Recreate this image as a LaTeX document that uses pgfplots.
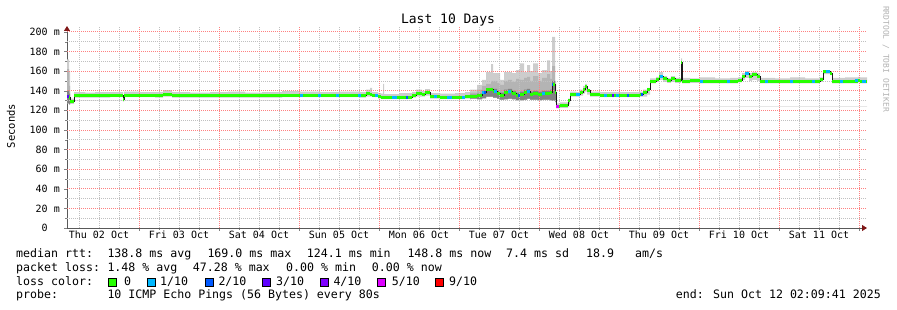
\documentclass[border=0pt]{standalone}
\usepackage{fontspec}
\setmainfont{DejaVu Sans Mono}
\usepackage{pgfplots}
\pgfplotsset{compat=1.18}
\usepackage{pgfplotstable}
\usepgfplotslibrary{fillbetween}
\usetikzlibrary{arrows.meta}

\definecolor{lossA}{RGB}{38,255,0}
\definecolor{lossB}{RGB}{0,184,255}
\definecolor{lossC}{RGB}{0,89,255}
\definecolor{lossD}{RGB}{94,0,255}
\definecolor{lossE}{RGB}{126,0,255}
\definecolor{lossF}{RGB}{221,0,255}
\definecolor{lossG}{RGB}{255,0,0}
\definecolor{smokeA}{RGB}{205,205,205}
\definecolor{smokeB}{RGB}{180,180,180}
\definecolor{smokeC}{RGB}{130,130,130}
\definecolor{gridred}{RGB}{255,128,128}
\definecolor{gridgray}{RGB}{192,192,192}
\definecolor{arrowred}{RGB}{128,24,24}

% hours since Thu 02 Oct 00:00
\pgfplotstableread{
h      med    lo     u1
2.4    134    127    172
3.0    133    126    160
3.3    129    126.5  132
4.5    135    133    138.5
7.8    135    133    138
10.8   135    133    138.5
15.3   135.5  133.5  138.5
19.2   131    129    133.5
19.5   135.5  133.5  139
24.3   135.5  133.5  138.5
28.8   135    133    138.5
31.2   136.5  134    140.5
33.9   135    133    138.5
39.3   135    133    138
45.3   135    133    138.5
50.7   135    133    139
55.8   135    133    138
60.9   135    133    138.5
66.9   135.5  133.5  139.5
72.3   135.5  133.5  139
78.3   135.5  133.5  138.5
84.3   135.5  133.5  139
90.3   135    133    138.5
92.1   137.5  134    141
93.3   136    134    143
93.9   135.5  133.5  138.5
95.7   134    132    137.5
96.6   133.5  131.5  137
97.2   133.5  131.5  147
97.5   133.5  131.5  136.5
102.3  133.5  131.5  137.5
105.9  135    133    138.5
107.1  137.5  134    141
108.9  136    134    139.5
109.8  138    135    141.5
111.3  134    132    137.5
114.3  133.5  131.5  137
118.8  133.5  131.5  137.5
121.8  134    132    138.5
123.3  134    132    141
125.4  135    131    146
126.9  138    132    151
128.1  141    134    159
129.6  141.5  134    167
130.2  139    133    158
131.4  137    132    158
132.3  135.5  131    151
133.5  138    131    159
134.7  139.5  132    159
135.9  137    131    158
137.1  135    130    161
138.3  136    130    168
139.5  138    131    159
140.4  139    132    166
141.3  136    131    160
142.2  137    131    168
143.7  136.5  130    158
144.9  137    131    161
146.4  137    131    171
147.3  138    130    160
147.9  146    130    195
148.8  138    128    150
149.1  124    122    127
150.3  124.5  122.5  128
152.7  130    126    132
153.3  136    134    139
155.1  136    134    138.5
156.3  138    135    141
157.2  141    137    145
157.8  144    139    147
158.4  140    136    142
159.3  136    134    139
162.3  135.5  133.5  138.5
168.3  135.5  133.5  138.5
174.3  136    134    139
175.2  138    134    141
176.4  141    136    143
177.3  149.5  147.5  152.5
179.1  151    149    154
180.0  155    151    159
181.2  152    149    155
182.4  150    148    153
183.6  152    149    155
184.8  150    148    153
186.6  169    150    173
186.9  149.5  147.5  153
189.3  150    148    152.5
192.3  149.5  147.5  153.5
196.8  149.5  147.5  152.5
201.3  149.5  147.5  153
203.7  150.5  148.5  153.5
204.9  155    151    158
205.8  158    153    160
207.0  154    150    158
207.9  157    151    159
209.4  154    150    158
210.3  149.5  147.5  153
214.8  149.5  147.5  152.5
219.3  149.5  147.5  153.5
223.8  149.5  147.5  152.5
228.3  151    149    153.5
229.2  159.5  157    161
231.3  158    156    160
231.9  149.5  147.5  153
235.8  149.5  147.5  153.5
239.7  150.5  148.5  154
240.3  149.5  147.5  153.5
242.4  149.5  147.5  153.5
}\maintab

\pgfplotstableread{
h      lo2    u2    u3
2.4    127    162   140
3.0    126    145   137
3.3    130    130   130
123.3  132    138   136
125.4  131.5  141   137
126.9  132.5  145   140
128.1  134    147   142
129.6  134    150   143
130.2  133    150   142
131.4  132    148   140
132.3  131    146   138
133.5  131.5  150   141
134.7  132    151   142
135.9  131.5  149   140
137.1  130.5  152   138
138.3  130.5  151   139
139.5  131    153   141
140.4  132    154   142
141.3  131    150   139
142.2  131    155   140
143.7  130.5  150   139
144.9  131    153   140
146.4  131    157   140
147.3  130.5  152   141
147.9  130    165   150
148.8  129    146   140
149.1  124    124   124
242.4  124    124   124
}\darktab

\pgfplotstableread{
h      v
72.3   135.5
73.2   135.5
73.2   nan
77.7   135.5
78.6   135.5
78.6   nan
83.1   135.5
84.0   135.5
84.0   nan
89.7   135
90.6   135
90.6   nan
94.8   135.5
95.7   135.5
95.7   nan
99.9   133.5
101.4  133.5
101.4  nan
112.4  134
113.4  134
113.4  nan
116.4  133.5
117.9  133.5
117.9  nan
120.9  133.5
121.8  133.5
121.8  nan
126.9  138
127.5  138
127.5  nan
130.5  139
131.4  139
131.4  nan
134.7  139.5
135.6  139.5
135.6  nan
140.4  139
141.3  139
141.3  nan
144.9  137
145.8  137
145.8  nan
155.1  136
156.3  136
156.3  nan
163.5  135.5
164.4  135.5
164.4  nan
167.1  135.5
168.0  135.5
168.0  nan
180.3  155
181.2  155
181.2  nan
192.3  149.5
193.2  149.5
193.2  nan
200.4  149.5
201.3  149.5
201.3  nan
205.8  158
207.0  158
207.0  nan
211.8  149.5
212.7  149.5
212.7  nan
219.3  149.5
220.2  149.5
220.2  nan
225.9  149.5
226.8  149.5
226.8  nan
230.1  159.5
231.3  159.5
231.3  nan
234.3  149.5
235.2  149.5
235.2  nan
238.8  150.5
239.7  150.5
239.7  nan
240.9  149.5
242.1  149.5
}\cyantab

\pgfplotstableread{
h      v
104.1  133.5
104.7  133.5
104.7  nan
127.5  138
128.1  138
128.1  nan
137.7  135
138.3  135
138.3  nan
147.9  146
148.2  146
148.2  nan
170.4  135.5
171.0  135.5
171.0  nan
174.6  136
175.2  136
}\bluetab

\pgfplotstableread{
h      v
2.4    134
3.0    134
3.0    nan
165.9  135.5
166.5  135.5
}\purpletab

\pgfplotstableread{
h      v
149.1  124
150.0  124
}\magentatab

\begin{document}
\begin{tikzpicture}[x=1pt,y=1pt]
\path (0,0) rectangle (897,310);
\begin{axis}[
  at={(67pt,82pt)}, anchor=south west,
  scale only axis, width=800pt, height=202pt,
  xmin=2.4, xmax=242.4, ymin=0, ymax=206,
  axis lines=left,
  axis line style={draw=black!65, line width=0.8pt},
  x axis line style={-{Triangle[length=5pt,width=6pt,color=arrowred]}},
  y axis line style={-{Triangle[length=5pt,width=6pt,color=arrowred]}},
  xtick={24,48,...,240},
  xticklabels={},
  minor x tick num=3,
  extra x ticks={12,36,...,228},
  extra x tick labels={Thu 02 Oct,Fri 03 Oct,Sat 04 Oct,Sun 05 Oct,Mon 06 Oct,Tue 07 Oct,Wed 08 Oct,Thu 09 Oct,Fri 10 Oct,Sat 11 Oct},
  extra x tick style={major tick length=0pt},
  ytick={0,20,...,200},
  yticklabels={0\hphantom{xm},20 m,40 m,60 m,80 m,100 m,120 m,140 m,160 m,180 m,200 m},
  minor y tick num=1,
  tick align=outside,
  major tick length=3pt, minor tick length=2pt,
  tick label style={font=\fontsize{10}{12}\selectfont, text=black},
  yticklabel style={inner sep=0pt, xshift=-4pt},
  xticklabel style={inner sep=0pt, yshift=-3pt},
]
% grid lines (drawn explicitly so their colours hold)
\pgfplotsinvokeforeach{6,12,...,240}{
  \draw[gridgray, line width=0.8pt, dash pattern=on 1pt off 1pt] (axis cs:#1,0) -- (axis cs:#1,206);
}
\pgfplotsinvokeforeach{10,20,...,200}{
  \draw[gridgray, line width=0.8pt, dash pattern=on 1pt off 1pt] (axis cs:2.4,#1) -- (axis cs:242.4,#1);
}
\pgfplotsinvokeforeach{24,48,...,240}{
  \draw[gridred, line width=0.8pt, dash pattern=on 1pt off 1pt] (axis cs:#1,0) -- (axis cs:#1,206);
}
\pgfplotsinvokeforeach{20,40,...,200}{
  \draw[gridred, line width=0.8pt, dash pattern=on 1pt off 1pt] (axis cs:2.4,#1) -- (axis cs:242.4,#1);
}
% smoke
\addplot[name path=lo, draw=none, const plot mark left, forget plot] table[x=h, y=lo] {\maintab};
\addplot[name path=up, draw=none, const plot mark left, forget plot] table[x=h, y=u1] {\maintab};
\addplot[fill=smokeA, draw=none, forget plot] fill between[of=lo and up];
\addplot[name path=lotwo, draw=none, const plot mark left, forget plot] table[x=h, y=lo2] {\darktab};
\addplot[name path=uptwo, draw=none, const plot mark left, forget plot] table[x=h, y=u2] {\darktab};
\addplot[name path=upthree, draw=none, const plot mark left, forget plot] table[x=h, y=u3] {\darktab};
\addplot[fill=smokeB, draw=none, forget plot] fill between[of=lotwo and uptwo];
\addplot[fill=smokeC, draw=none, forget plot] fill between[of=lotwo and upthree];
% median
\addplot[draw=black!90, line width=1pt, const plot mark left, forget plot] table[x=h, y=med] {\maintab};
\addplot[draw=lossA, line width=3pt, jump mark left, forget plot] table[x=h, y=med] {\maintab};
\addplot[draw=lossB, line width=3pt, unbounded coords=jump, forget plot] table[x=h, y=v] {\cyantab};
\addplot[draw=lossC, line width=3pt, unbounded coords=jump, forget plot] table[x=h, y=v] {\bluetab};
\addplot[draw=lossD, line width=3pt, unbounded coords=jump, forget plot] table[x=h, y=v] {\purpletab};
\addplot[draw=lossF, line width=3pt, unbounded coords=jump, forget plot] table[x=h, y=v] {\magentatab};
\end{axis}

% titles
\node[anchor=base, font=\fontsize{13}{15}\selectfont] at (448,286) {Last 10 Days};
\node[rotate=90, anchor=center, font=\fontsize{10.5}{12}\selectfont] at (11,184) {Seconds};
\node[rotate=-90, anchor=center, font=\fontsize{8}{10}\selectfont, text=black!30] at (886,251) {RRDTOOL / TOBI OETIKER};

% legend
\begin{scope}[every node/.style={anchor=base west, inner sep=0pt, font=\fontsize{11.6}{13}\selectfont}]
\node at (16,52) {median rtt:};
\node at (107.3,52) {138.8 ms avg};
\node at (207.3,52) {169.0 ms max};
\node at (306.7,52) {124.1 ms min};
\node at (407.3,52) {148.8 ms now};
\node at (506,52) {7.4 ms sd};
\node at (586,52) {18.9};
\node at (635,52) {am/s};
\node at (16,38) {packet loss:};
\node at (107.3,38) {1.48 \% avg};
\node at (192.7,38) {47.28 \% max};
\node at (286,38) {0.00 \% min};
\node at (371.7,38) {0.00 \% now};
\node at (16,24) {loss color:};
\node at (124,24) {0};
\node at (160,24) {1/10};
\node at (218.3,24) {2/10};
\node at (276,24) {3/10};
\node at (333.3,24) {4/10};
\node at (391.7,24) {5/10};
\node at (449,24) {9/10};
\node at (16,11) {probe:};
\node at (107.3,11) {10 ICMP Echo Pings (56 Bytes) every 80s};
\node[anchor=base east] at (881,11) {end: Sun Oct 12 02:09:41 2025};
\end{scope}
\foreach \bx/\bc in {108/lossA,147/lossB,205/lossC,262/lossD,320/lossE,377/lossF,435/lossG}{
  \filldraw[fill=\bc, draw=black, line width=0.6pt] (\bx,23.5) rectangle ++(8.5,8.5);
}
\end{tikzpicture}
\end{document}
